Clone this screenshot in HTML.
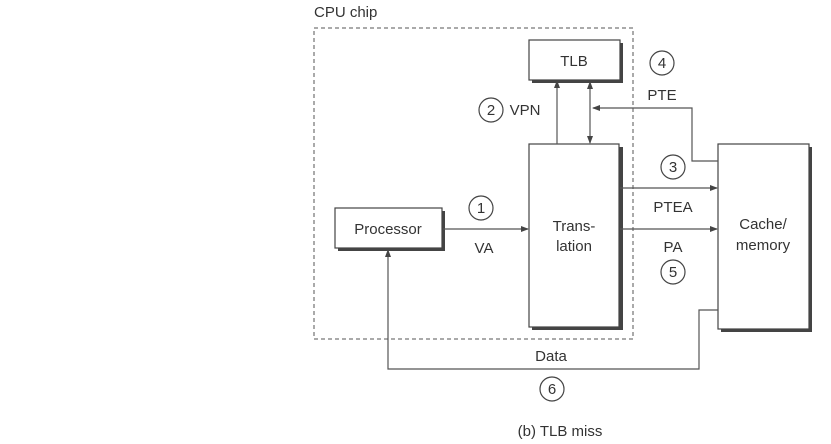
<!DOCTYPE html>
<html><head><style>body{margin:0;background:#fff}svg{display:block}text{font-family:"Liberation Sans",sans-serif;font-size:15px;fill:#333}</style></head><body>
<svg width="831" height="444" viewBox="0 0 831 444">
<defs><marker id="a" markerWidth="8" markerHeight="6" refX="7" refY="3" orient="auto" markerUnits="userSpaceOnUse"><path d="M0,0L8,3L0,6z" fill="#444"/></marker>
<marker id="b" markerWidth="8" markerHeight="6" refX="1" refY="3" orient="auto" markerUnits="userSpaceOnUse"><path d="M8,0L0,3L8,6z" fill="#444"/></marker></defs>
<text x="314" y="17">CPU chip</text>
<rect x="314" y="28" width="319" height="311" fill="none" stroke="#555" stroke-dasharray="4,3"/>
<g fill="#444"><rect x="532" y="43" width="91" height="40"/><rect x="532" y="147" width="91" height="183"/><rect x="338" y="211" width="107" height="40"/><rect x="721" y="147" width="91" height="185"/></g>
<g fill="#fff" stroke="#444" stroke-width="1.2"><rect x="529" y="40" width="91" height="40"/><rect x="529" y="144" width="90" height="183"/><rect x="335" y="208" width="107" height="40"/><rect x="718" y="144" width="91" height="185"/></g>
<g stroke="#555" fill="none" stroke-width="1.2">
<line x1="557" y1="144" x2="557" y2="81" marker-end="url(#a)"/>
<line x1="590" y1="82" x2="590" y2="143" marker-start="url(#b)" marker-end="url(#a)"/>
<polyline points="718,161 692,161 692,108 593,108" marker-end="url(#a)"/>
<line x1="620" y1="188" x2="717" y2="188" marker-end="url(#a)"/>
<line x1="620" y1="229" x2="717" y2="229" marker-end="url(#a)"/>
<line x1="443" y1="229" x2="528" y2="229" marker-end="url(#a)"/>
<polyline points="718,310 699,310 699,369 388,369 388,250" marker-end="url(#a)"/>
</g>
<g fill="none" stroke="#444" stroke-width="1.2"><circle cx="481" cy="208" r="12"/><circle cx="491" cy="110" r="12"/><circle cx="662" cy="63" r="12"/><circle cx="673" cy="167" r="12"/><circle cx="673" cy="272" r="12"/><circle cx="552" cy="389" r="12"/></g>
<g text-anchor="middle"><text x="481" y="213">1</text><text x="491" y="115">2</text><text x="662" y="68">4</text><text x="673" y="172">3</text><text x="673" y="277">5</text><text x="552" y="394">6</text>
<text x="574" y="66">TLB</text><text x="574" y="231">Trans-</text><text x="574" y="251">lation</text><text x="763" y="229">Cache/</text><text x="763" y="250">memory</text><text x="388" y="234">Processor</text>
<text x="525" y="115">VPN</text><text x="662" y="100">PTE</text><text x="673" y="212">PTEA</text><text x="673" y="252">PA</text><text x="484" y="253">VA</text><text x="551" y="361">Data</text><text x="560" y="436">(b) TLB miss</text></g>
</svg></body></html>
